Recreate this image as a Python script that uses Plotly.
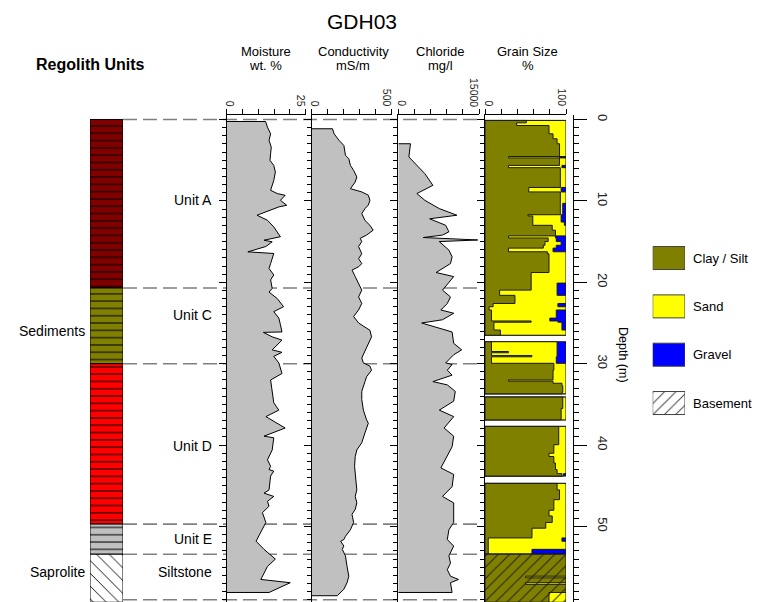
import plotly.graph_objects as go

W, H = 758, 602
def px(x): return x / W
def py(y): return 1 - y / H

DEPTH_MAX = 59.27      # depth at bottom edge of the picture
DEPTH_TOP = -0.55      # depth at the panel top axis line
AX_TOP_Y = 115.0       # pixel row of panel top axes

# ---------------- data ----------------
moist_depth = [0.25, 0.94, 1.76, 2.57, 3.39, 4.21, 5.02, 5.64, 6.45, 7.48, 8.7, 9.1, 9.31, 9.93, 10.54, 10.74,
               11.76, 12.38, 13.2, 14.4, 14.83, 15.03, 15.6, 16.26, 16.46, 17.7, 18.3, 19.1, 19.7, 20.75, 21.2,
               22.0, 23.0, 23.6, 24.4, 25.2, 26.1, 26.15, 26.7, 27.1, 27.7, 28.3, 28.6, 29.1, 29.9, 31.2, 32.0,
               33.6, 34.8, 35.7, 36.5, 37.9, 38.9, 39.1, 40.6, 41.8, 42.6, 43.0, 43.2, 43.8, 45.5, 45.9, 46.3,
               46.9, 47.5, 48.3, 49.5, 51.8, 52.8, 54.0, 54.9, 56.5, 56.9, 58.1]
moist_val = [12.3, 12.9, 13.9, 13.4, 14.1, 13.9, 13.7, 14.9, 15.4, 14.9, 13.9, 16.0, 18.5, 17.0, 19.0, 16.5,
             9.6, 12.9, 14.9, 17.0, 11.8, 14.4, 12.4, 6.7, 14.9, 13.9, 13.4, 14.9, 13.9, 14.4, 13.4,
             16.0, 18.0, 14.9, 16.5, 17.0, 17.5, 11.6, 14.4, 17.5, 16.0, 14.4, 17.5, 14.9, 16.5, 17.5, 13.9,
             14.4, 14.9, 16.5, 12.4, 18.5, 11.8, 14.9, 14.4, 12.9, 13.9, 13.4, 14.9, 13.9, 13.4, 11.8, 14.9,
             12.9, 13.4, 11.3, 12.4, 9.3, 11.8, 15.4, 12.9, 10.8, 20.1, 13.4]

cond_depth = [1.14, 1.76, 2.57, 3.19, 4.0, 4.4, 4.82, 5.64, 6.25, 7.06, 7.68, 8.5, 8.9, 9.3, 9.93, 10.5, 10.95,
              11.56, 12.4, 13.0, 13.6, 14.2, 14.6, 15.0, 15.6, 16.5, 17.1, 17.7, 18.1, 18.5, 19.3, 20.1, 20.96,
              21.8, 22.6, 23.4, 24.2, 25.0, 25.9, 26.7, 27.5, 28.3, 29.3, 29.9, 30.3, 30.8, 31.6, 32.2, 32.8,
              33.4, 34.4, 35.7, 36.9, 37.3, 38.5, 39.7, 40.6, 41.4, 42.6, 43.8, 45.5, 46.3, 47.1, 47.9, 48.5,
              49.5, 50.4, 51.2, 51.6, 51.8, 52.4, 52.8, 53.6, 54.9, 56.1, 56.9, 57.7, 58.5]
cond_val = [130, 140, 171, 201, 207, 211, 232, 242, 262, 282, 272, 242, 313, 354, 364, 354, 333,
            313, 333, 364, 384, 343, 303, 313, 293, 313, 293, 313, 293, 252, 272, 293, 313,
            293, 313, 293, 262, 293, 364, 374, 354, 333, 313, 323, 364, 374, 343, 333, 323,
            313, 313, 323, 343, 354, 333, 313, 282, 272, 268, 272, 282, 272, 282, 272, 252,
            262, 242, 211, 201, 181, 201, 191, 211, 221, 232, 221, 201, 160]

chl_depth = [2.98, 4.6, 5.64, 6.66, 8.09, 9.1, 9.93, 10.95, 11.76, 12.2, 13.0, 13.8, 14.2, 14.5, 14.8, 15.0,
             16.05, 16.87, 17.7, 18.8, 19.3, 20.96, 21.8, 22.6, 23.4, 23.8, 24.6, 25.0, 26.1, 27.5, 28.3,
             28.9, 29.9, 30.1, 30.8, 31.4, 32.2, 32.6, 33.4, 34.6, 35.7, 36.5, 37.9, 38.9, 40.2, 41.4, 42.8,
             43.6, 45.1, 46.3, 47.1, 49.5, 50.4, 51.6, 52.4, 53.6, 54.5, 55.3, 56.1, 56.5, 56.9, 58.1]
chl_val = [2262, 1964, 3452, 4940, 6430, 3452, 4940, 7619, 10893, 5833, 8810, 9405, 8214, 4643, 14762, 7619,
           9405, 10000, 9702, 7024, 10298, 8214, 9702, 9107, 7917, 10298, 8214, 4345, 10000, 10298, 11786,
           10298, 8810, 10000, 9107, 10000, 6429, 9107, 10595, 10298, 7619, 10298, 8512, 10298, 10000, 9107, 7917,
           10298, 10000, 8214, 10298, 10298, 9405, 9107, 10298, 9405, 9702, 9107, 9702, 11190, 9702, 10000]

# grain size intervals (m, %)
gs_top = [0.12, 0.41, 0.74, 1.76, 2.37, 2.98, 4.55, 4.72, 5.64, 5.92, 8.35, 8.9, 10.3, 11.7, 11.85, 12.6,
          13.0, 13.6, 14.3, 14.55, 15.0, 15.45, 15.8, 16.25, 16.5, 18.8, 20.1, 20.96, 21.6, 22.6, 23.0,
          23.4, 24.4, 24.75, 24.9, 25.86,
          27.3, 28.5, 28.65, 29.0, 29.15, 29.95, 30.8, 32.0, 32.15, 32.4, 32.7, 33.5,
          34.1, 35.5,
          37.7, 39.95, 41.0, 41.4, 42.2, 43.0, 43.5,
          44.7, 45.5, 46.7, 48.0, 48.7, 49.5, 50.2, 51.4, 51.8, 52.8,
          53.4, 56.1, 56.3, 56.9, 57.1, 58.1]
gs_bot = [0.41, 0.74, 1.76, 2.37, 2.98, 4.55, 4.72, 5.64, 5.92, 8.35, 8.9, 10.3, 11.7, 11.85, 12.6, 13.0,
          13.6, 14.3, 14.55, 15.0, 15.45, 15.8, 16.25, 16.5, 18.8, 20.1, 20.96, 21.6, 22.6, 23.0, 23.4,
          24.4, 24.75, 24.9, 25.86, 26.5,
          28.5, 28.65, 29.0, 29.15, 29.95, 30.8, 32.0, 32.15, 32.4, 32.7, 33.5, 33.7,
          35.5, 36.9,
          39.95, 41.0, 41.4, 42.2, 43.0, 43.5, 43.8,
          45.5, 46.7, 48.0, 48.7, 49.5, 50.2, 51.4, 51.8, 52.8, 53.4,
          56.1, 56.3, 56.9, 57.1, 58.1, 59.3]
gs_clay = [51, 39, 79, 84, 89, 92, 29, 92, 29, 93, 54, 93, 93, 53, 59, 59,
           83, 87, 29, 78, 74, 72, 29, 77, 79, 57, 57, 18, 37, 10, 5,
           8, 8, 57, 11, 19,
           8, 29, 8, 58, 8, 85, 84, 29, 84, 95, 96, 95,
           96, 94,
           91, 85, 79, 85, 87, 89, 95,
           89, 92, 85, 79, 83, 75, 58, 4, 4, 4,
           100, 50, 100, 50, 100, 79]
gs_sand = [49, 61, 21, 16, 11, 8, 63, 8, 66, 7, 40, 7, 3, 41, 35, 39,
           17, 13, 58, 10, 20, 16, 55, 23, 21, 43, 32, 71, 63, 80, 95,
           80, 72, 33, 84, 81,
           81, 60, 81, 31, 80, 15, 16, 71, 16, 5, 4, 5,
           4, 6,
           9, 15, 21, 15, 13, 11, 2,
           11, 8, 15, 21, 17, 25, 42, 91, 96, 54,
           0, 50, 0, 50, 0, 21]
gs_gravel = [0, 0, 0, 0, 0, 0, 8, 0, 5, 0, 6, 0, 4, 6, 6, 2,
             0, 0, 13, 12, 6, 12, 16, 0, 0, 0, 11, 11, 0, 10, 0,
             12, 20, 10, 5, 0,
             11, 11, 11, 11, 12, 0, 0, 0, 0, 0, 0, 0,
             0, 0,
             0, 0, 0, 0, 0, 0, 3,
             0, 0, 0, 0, 0, 0, 0, 5, 0, 42,
             0, 0, 0, 0, 0, 0]
gs_basement = [0] * 67 + [1] * 6

# regolith units
unit_names = ["Unit A", "Unit C", "Unit D", "Unit E", "Siltstone"]
unit_top = [0.0, 20.7, 30.0, 49.7, 53.4]
unit_bot = [20.7, 30.0, 49.7, 53.4, 59.3]
unit_label_depth = [9.9, 24.0, 40.1, 51.5, 55.6]
unit_colors = ["#800000", "#808000", "#FF0000", "#C0C0C0", "#FFFFFF"]
unit_hatch = ["-", "-", "-", "-", "\\"]
group_names = ["Sediments", "Saprolite"]
group_depth = [26.0, 55.6]
boundary_depths = [0.0, 20.7, 30.0, 49.7, 53.4, 59.0]

legend_names = ["Clay / Silt", "Sand", "Gravel", "Basement"]
legend_colors = ["#808000", "#FFFF00", "#0000FF", "#FFFFFF"]
legend_hatch = ["", "", "", "/"]

panels = [
    dict(title="Moisture", unit="wt. %", max=25, ticks=["0", "25"], x0=226.7, x1=305.7, cx=265.5),
    dict(title="Conductivity", unit="mS/m", max=500, ticks=["0", "500"], x0=311.7, x1=391.7, cx=353),
    dict(title="Chloride", unit="mg/l", max=15000, ticks=["0", "15000"], x0=398.3, x1=479.0, cx=440.5),
    dict(title="Grain Size", unit="%", max=100, ticks=["0", "100"], x0=485.0, x1=566.0, cx=527.5),
]

FONT = "Arial, Liberation Sans, sans-serif"
fig = go.Figure()

# ---------------- profile panels ----------------
profiles = [(moist_depth, moist_val), (cond_depth, cond_val), (chl_depth, chl_val)]
for k, (d, v) in enumerate(profiles):
    ax = "" if k == 0 else str(k + 1)
    fig.add_trace(go.Scatter(
        x=[0] + list(v) + [0], y=[d[0]] + list(d) + [d[-1]],
        mode="lines", fill="toself", fillcolor="#C0C0C0",
        line=dict(color="#000000", width=1), xaxis="x" + ax, yaxis="y" + ax,
        hoverinfo="skip"))

# ---------------- grain size ----------------
def segments(flag):
    segs, cur = [], []
    for i in range(len(gs_top)):
        if gs_basement[i] != flag:
            if cur:
                segs.append(cur); cur = []
            continue
        if cur and abs(gs_top[i] - gs_bot[cur[-1]]) > 1e-6:
            segs.append(cur); cur = []
        cur.append(i)
    if cur:
        segs.append(cur)
    return segs

def polygon(segs, rights):
    xs, ys = [], []
    for seg in segs:
        t0, b1 = gs_top[seg[0]], gs_bot[seg[-1]]
        xs.append(0); ys.append(t0)
        for i in seg:
            xs += [rights[i], rights[i]]
            ys += [gs_top[i], gs_bot[i]]
        xs += [0, 0, None]
        ys += [b1, t0, None]
    return xs, ys

r_total = [c + s + g for c, s, g in zip(gs_clay, gs_sand, gs_gravel)]
r_cs = [c + s for c, s in zip(gs_clay, gs_sand)]
r_c = list(gs_clay)

for flag in (0, 1):
    segs = segments(flag)
    for rights, col in ((r_total, "#0000FF"), (r_cs, "#FFFF00"), (r_c, "#808000")):
        xs, ys = polygon(segs, rights)
        kw = {}
        if flag == 1:
            kw["fillpattern"] = dict(shape="/", fgcolor="#202020", bgcolor=col, size=8, solidity=0.12)
        fig.add_trace(go.Scatter(x=xs, y=ys, mode="lines", fill="toself", fillcolor=col,
                                 line=dict(color="#1a1a1a", width=1), xaxis="x4", yaxis="y4",
                                 hoverinfo="skip", **kw))

# ---------------- regolith column ----------------
for i in range(len(unit_names)):
    striped = unit_hatch[i] == "-"
    fig.add_trace(go.Bar(
        x=[0.5], y=[unit_bot[i] - unit_top[i]], base=[unit_top[i]], width=1,
        marker=dict(color=unit_colors[i], line=dict(color="#000000", width=1),
                    pattern=dict(shape=unit_hatch[i], fgcolor="#000000", bgcolor=unit_colors[i],
                                 size=7.3 if striped else 9, solidity=0.14 if striped else 0.1)),
        xaxis="x5", yaxis="y5", hoverinfo="skip"))

# invisible trace carrying the right-hand depth axis
fig.add_trace(go.Scatter(x=[0, 0], y=[0, DEPTH_MAX], mode="lines", line=dict(width=0),
                         xaxis="x4", yaxis="y6", hoverinfo="skip"))

# ---------------- legend boxes ----------------
for i, name in enumerate(legend_names):
    pat = dict(shape=legend_hatch[i], fgcolor="#404040", bgcolor=legend_colors[i], size=8, solidity=0.12)
    fig.add_trace(go.Bar(x=[1], y=[i], base=[0], width=0.476, orientation="h",
                         marker=dict(color=legend_colors[i], line=dict(color="#404040", width=1), pattern=pat),
                         xaxis="x7", yaxis="y7", hoverinfo="skip"))

# ---------------- axes ----------------
ydom = [0, py(AX_TOP_Y)]
yrange = [DEPTH_MAX, DEPTH_TOP]
layout = dict(template="none", width=W, height=H, autosize=False, margin=dict(l=0, r=0, t=0, b=0, pad=0),
              paper_bgcolor="white", plot_bgcolor="rgba(0,0,0,0)", showlegend=False,
              font=dict(family=FONT, color="#000000"), barmode="overlay")

def yax(extra=None):
    d = dict(domain=ydom, range=yrange, showline=True, linecolor="#000000", linewidth=1,
             ticks="outside", ticklen=7, tickcolor="#000000", tickwidth=1, tick0=0, dtick=10,
             showticklabels=False, showgrid=False, zeroline=False, automargin=False,
             minor=dict(ticks="outside", ticklen=4, dtick=1, tick0=0, tickcolor="#000000", showgrid=False))
    if extra:
        d.update(extra)
    return d

for k, p in enumerate(panels):
    ax = "" if k == 0 else str(k + 1)
    layout["xaxis" + ax] = dict(domain=[px(p["x0"]), px(p["x1"])], range=[0, p["max"]], side="top",
                                anchor="y" + ax, showline=True, linecolor="#000000", linewidth=1,
                                ticks="outside", ticklen=5, tickcolor="#000000", tickwidth=1,
                                tickvals=[0, p["max"]], showticklabels=False,
                                minor=dict(ticks="outside", ticklen=5, dtick=p["max"] / 5,
                                           tickcolor="#000000", showgrid=False),
                                showgrid=False, zeroline=False, automargin=False)
    layout["yaxis" + ax] = yax(dict(anchor="x" + ax) if k == 0 else dict(matches="y", anchor="x" + ax))

layout["xaxis5"] = dict(domain=[px(90), px(123)], range=[0, 1], visible=False, anchor="y5", automargin=False)
layout["yaxis5"] = dict(domain=ydom, range=yrange, visible=False, anchor="x5", automargin=False)
layout["yaxis6"] = dict(domain=ydom, range=yrange, overlaying="y", anchor="free",
                        position=px(573.3), side="right", showline=True, linecolor="#000000",
                        ticks="outside", ticklen=13, tickcolor="#000000", tick0=0, dtick=10,
                        tickangle=90, tickfont=dict(size=13, color="#222222"), ticklabelstandoff=6,
                        minor=dict(ticks="outside", ticklen=5, dtick=1, tick0=0, tickcolor="#000000",
                                   showgrid=False),
                        showgrid=False, zeroline=False, automargin=False)
layout["xaxis7"] = dict(domain=[px(652.7), px(685)], range=[0, 1], visible=False, anchor="y7", automargin=False)
layout["yaxis7"] = dict(domain=[py(427.2), py(233.9)], range=[3.5, -0.5], visible=False, anchor="x7",
                        automargin=False)

fig.update_layout(**layout)

# ---------------- dashed boundary lines ----------------
for d in boundary_depths:
    fig.add_shape(type="line", xref="paper", x0=px(123), x1=px(480), yref="y", y0=d, y1=d,
                  line=dict(color="#808080", width=1.6, dash="14px,6px"), layer="below")

# ---------------- text ----------------
ann = []
ann.append(dict(text="GDH03", x=px(362), y=py(21.5), font=dict(size=21)))
ann.append(dict(text="<b>Regolith Units</b>", x=px(90.5), y=py(64), font=dict(size=16)))
for k, p in enumerate(panels):
    ax = "x" if k == 0 else "x" + str(k + 1)
    ann.append(dict(text=p["title"], x=px(p["cx"]), y=py(51), font=dict(size=13)))
    ann.append(dict(text=p["unit"], x=px(p["cx"]), y=py(66), font=dict(size=13)))
    # end tick labels, rotated, kept inside the axis span
    ann.append(dict(text=p["ticks"][0], x=0, xref=ax, xshift=3, y=py(108.5), yanchor="bottom",
                    textangle=90, font=dict(size=10.5, color="#222222")))
    ann.append(dict(text=p["ticks"][1], x=p["max"], xref=ax, xshift=-5, y=py(108.5), yanchor="bottom",
                    textangle=90, font=dict(size=10.5, color="#222222")))
for name, d in zip(unit_names, unit_label_depth):
    ann.append(dict(text=name, x=px(214), xanchor="right", y=d, yref="y", font=dict(size=14)))
for name, d in zip(group_names, group_depth):
    ann.append(dict(text=name, x=px(87), xanchor="right", y=d, yref="y", font=dict(size=14)))
for i, name in enumerate(legend_names):
    ann.append(dict(text=name, x=px(691), xanchor="left", y=i, yref="y7", font=dict(size=13)))
ann.append(dict(text="Depth (m)", x=px(623), y=py(355), textangle=90, font=dict(size=12.5)))

for a in ann:
    a.setdefault("xref", "paper")
    a.setdefault("yref", "paper")
    a.setdefault("xanchor", "center")
    a.setdefault("yanchor", "middle")
    a["showarrow"] = False
    a["font"].setdefault("color", "#000000")
    a["font"].setdefault("family", FONT)
    fig.add_annotation(**a)

fig.write_html("out.html", config={"displayModeBar": False},
               post_script="document.body.style.margin='0';")
